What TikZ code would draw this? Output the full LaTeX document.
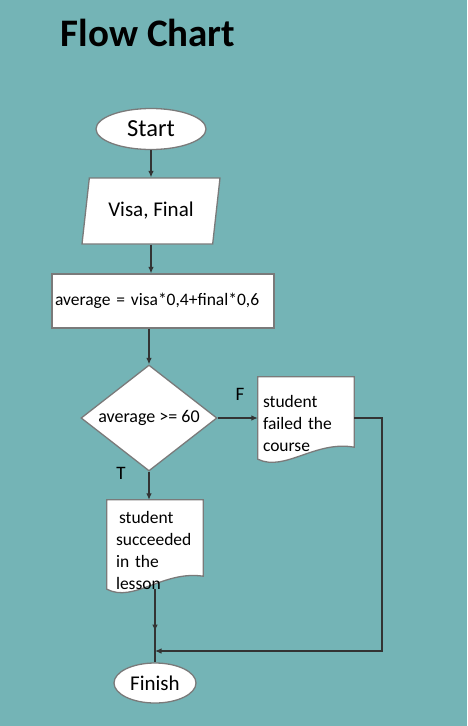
\documentclass[tikz,border=0pt]{standalone}
\usepackage{fontspec}
\setmainfont{Carlito}
\usetikzlibrary{shapes.geometric,arrows.meta,decorations.markings}
\pgfdeclarelayer{background}
\pgfsetlayers{background,main}
\definecolor{bgteal}{HTML}{74B4B6}
\definecolor{edgegray}{HTML}{7A7A7A}
\definecolor{linegray}{HTML}{333333}
\begin{document}
\begin{tikzpicture}[x=1pt,y=-1pt,
  box/.style={draw=edgegray,fill=white,line width=1.3pt},
  term/.style={box,ellipse,inner sep=0pt},
  conn/.style={draw=linegray,color=linegray,line width=1.1pt},
  arr/.style={conn,-{Latex[length=6.5pt,width=5.5pt]}},
  midarr/.style={postaction={decorate},decoration={markings,mark=at position 0.68 with {\arrow{Latex[length=6.5pt,width=5.5pt]}}}},
  txt/.style={font=\fontsize{17.5}{22}\selectfont,align=left,inner sep=0pt},
  docarea/.style={inner sep=0pt},
  lbl/.style={font=\fontsize{19}{22}\selectfont,inner sep=0pt},
]
\begin{pgfonlayer}{background}
\fill[bgteal] (0,0) rectangle (467,726);
\end{pgfonlayer}
\useasboundingbox (0,0) rectangle (467,726);

\node[font=\bfseries\fontsize{39}{45}\selectfont] (title) at (148,33) {Flow Chart};

\node[term,minimum width=110pt,minimum height=41pt,font=\fontsize{24.5}{28}\selectfont] (start) at (151,129) {Start};

\node[box,trapezium,trapezium left angle=67,trapezium right angle=113,trapezium stretches body,
      minimum width=138pt,minimum height=66pt,inner sep=0pt,font=\fontsize{21}{25}\selectfont] (inp) at (151,211) {Visa, Final};

\node[box,rectangle,minimum width=222pt,minimum height=54pt,text width=216pt,align=left,inner xsep=3pt,
      font=\fontsize{17.5}{21}\selectfont] (calc) at (163,301) {average = visa*0,4+final*0,6};

\node[box,diamond,minimum width=136pt,minimum height=106pt,inner sep=0pt,aspect=1.28,
      font=\fontsize{18}{21}\selectfont] (dec) at (149,418) {average >= 60};

% document shapes (area nodes) and their texts
\node[docarea,minimum width=96pt,minimum height=82pt] (fail) at (306,418) {};
\node[txt,text width=86pt] (failtext) at (306,423.5) {student\\failed the\\course};

\node[docarea,minimum width=96pt,minimum height=89pt] (succ) at (155,544.5) {};
\node[txt,text width=80pt] (succtext) at (156,550) {\hspace{3pt}student\\succeeded\\in the\\lesson};

\node[term,minimum width=82pt,minimum height=40pt,font=\fontsize{21}{25}\selectfont] (fin) at (155,683) {Finish};

\node[lbl] (lf) at (240,394) {F};
\node[lbl] (lt) at (121,473) {T};

\coordinate (j) at (155,651);
\coordinate (r) at (382,651);

\begin{pgfonlayer}{background}
\draw[box] (fail.south west) -- (fail.north west) -- (fail.north east) -- ([yshift=12pt]fail.south east)
  .. controls +(-39,-7) and +(27,13) .. (fail.south west) -- cycle;
\draw[box] (succ.south west) -- (succ.north west) -- (succ.north east) -- ([yshift=13pt]succ.south east)
  .. controls +(-40,-6) and +(27,14) .. (succ.south west) -- cycle;
\end{pgfonlayer}

\draw[arr] (start.south) -- (start.south |- inp.north);
\draw[arr] (inp.south) -- (inp.south |- calc.north);
\draw[arr] (calc.south -| dec.north) -- (dec.north);
\draw[arr] (dec.east) -- (fail.west);
\draw[arr] (dec.south) -- (dec.south |- succ.north);
\draw[conn,midarr] (succ.south) -- (j);
\draw[conn] (j) -- (fin.north);
\draw[arr] (fail.east) -| (r) -- (j);
\end{tikzpicture}
\end{document}
